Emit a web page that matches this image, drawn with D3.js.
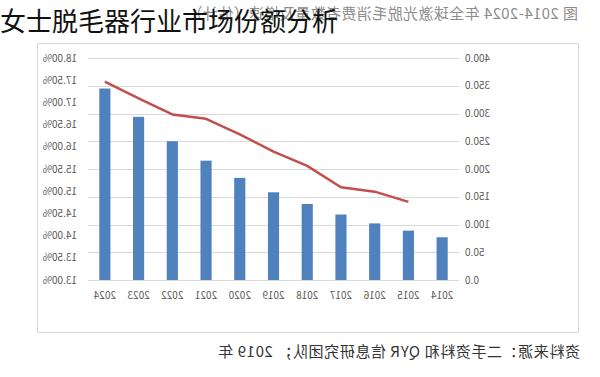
<!DOCTYPE html>
<html>
<head>
<meta charset="utf-8">
<script src="https://cdn.jsdelivr.net/npm/d3@7"></script>
<style>
  body { margin: 0; background: #fff; }
  text { font-family: "Noto Sans CJK SC", "DejaVu Sans", sans-serif; }
</style>
</head>
<body>
<div id="chart"></div>
<script>
// --------------------------------------
// Data
// --------------------------------------

const years = ["2014", "2015", "2016", "2017", "2018", "2019", "2020", "2021", "2022", "2023", "2024"];
const volume = [77, 89, 102, 118, 137, 158, 184, 215, 250, 294, 345];
const share = [null, 14.76, 14.99, 15.09, 15.57, 15.89, 16.28, 16.63, 16.73, 17.09, 17.47];
const volumeTicks = [0, 50, 100, 150, 200, 250, 300, 350, 400];
const shareTicks = [13, 13.5, 14, 14.5, 15, 15.5, 16, 16.5, 17, 17.5, 18];

const pageTitle = "女士脱毛器行业市场份额分析";
const figTitle = "图 2014-2024 年全球激光脱毛消费者数量及增速（估计）";
const source = "资料来源：二手资料和 QYR 信息研究团队；  2019 年";

// --------------------------------------
//  Canvas
// --------------------------------------

const width = 600, height = 377;
const plot = { left: 141, right: 512, top: 58, bottom: 280 };

const svg = d3.select("#chart")
  .append("svg")
    .attr("width", width)
    .attr("height", height);

// the scanned figure is mirrored left-right, so draw it normally and flip it
const flipped = svg
  .append("g")
    .attr("transform", `translate(${width}, 0) scale(-1, 1)`);

flipped.append("rect")
    .attr("x", 21.5)
    .attr("y", 43.5)
    .attr("width", 541)
    .attr("height", 289)
    .attr("fill", "#fff")
    .attr("stroke", "#d9d9d9");

// --------------------------------------
// Scales
// --------------------------------------

const x = d3.scaleBand(years, [plot.left, plot.right])
    .paddingInner(0.67)
    .paddingOuter(0.335);

const yVol = d3.scaleLinear([0, 400], [plot.bottom, plot.top]);
const yShare = d3.scaleLinear([13, 18], [plot.bottom, plot.top]);

// --------------------------------------
//  Axes
// --------------------------------------

flipped.append("g")
    .selectAll("line")
    .data(volumeTicks)
    .join("line")
      .attr("x1", plot.left)
      .attr("x2", plot.right)
      .attr("y1", d => Math.round(yVol(d)) + 0.5)
      .attr("y2", d => Math.round(yVol(d)) + 0.5)
      .attr("stroke", "#d9d9d9");

flipped.append("g")
    .selectAll("text")
    .data(volumeTicks)
    .join("text")
      .attr("x", 135)
      .attr("y", d => yVol(d) + 3.5)
      .attr("text-anchor", "end")
      .attr("font-size", 10)
      .attr("fill", "#595959")
      .text(d => d.toFixed(1));

flipped.append("g")
    .selectAll("text")
    .data(shareTicks)
    .join("text")
      .attr("x", 523)
      .attr("y", d => yShare(d) + 3.5)
      .attr("text-anchor", "start")
      .attr("font-size", 10)
      .attr("fill", "#595959")
      .text(d => d.toFixed(2) + "%");

flipped.append("g")
    .selectAll("text")
    .data(years)
    .join("text")
      .attr("x", d => x(d) + x.bandwidth() / 2)
      .attr("y", 299)
      .attr("text-anchor", "middle")
      .attr("font-size", 10)
      .attr("fill", "#595959")
      .text(d => d);

// --------------------------------------
// Bars and line drawing
// --------------------------------------

flipped.append("g")
    .selectAll("rect")
    .data(years)
    .join("rect")
      .attr("x", d => x(d))
      .attr("y", (d, i) => yVol(volume[i]))
      .attr("width", x.bandwidth())
      .attr("height", (d, i) => yVol(0) - yVol(volume[i]))
      .attr("fill", "#4f81bd");

let line = d3.line()
    .defined(d => d[1] != null)
    .x(d => x(d[0]) + x.bandwidth() / 2)
    .y(d => yShare(d[1]));

flipped.append("path")
    .attr("d", line(d3.zip(years, share)))
    .attr("fill", "none")
    .attr("stroke", "#c0504d")
    .attr("stroke-width", 2.5)
    .attr("stroke-linejoin", "round");

// --------------------------------------
// Texts
// --------------------------------------

flipped.append("text")
    .attr("x", 22)
    .attr("y", 19)
    .attr("font-size", 15)
    .attr("letter-spacing", 0.4)
    .attr("fill", "#8c8c8c")
    .text(figTitle);

flipped.append("text")
    .attr("x", 20)
    .attr("y", 357)
    .attr("font-size", 15)
    .attr("letter-spacing", 0.6)
    .attr("fill", "#333")
    .text(source);

svg.append("text")
    .attr("x", 0)
    .attr("y", 31)
    .attr("font-size", 26)
    .attr("fill", "#111")
    .text(pageTitle);
</script>
</body>
</html>
